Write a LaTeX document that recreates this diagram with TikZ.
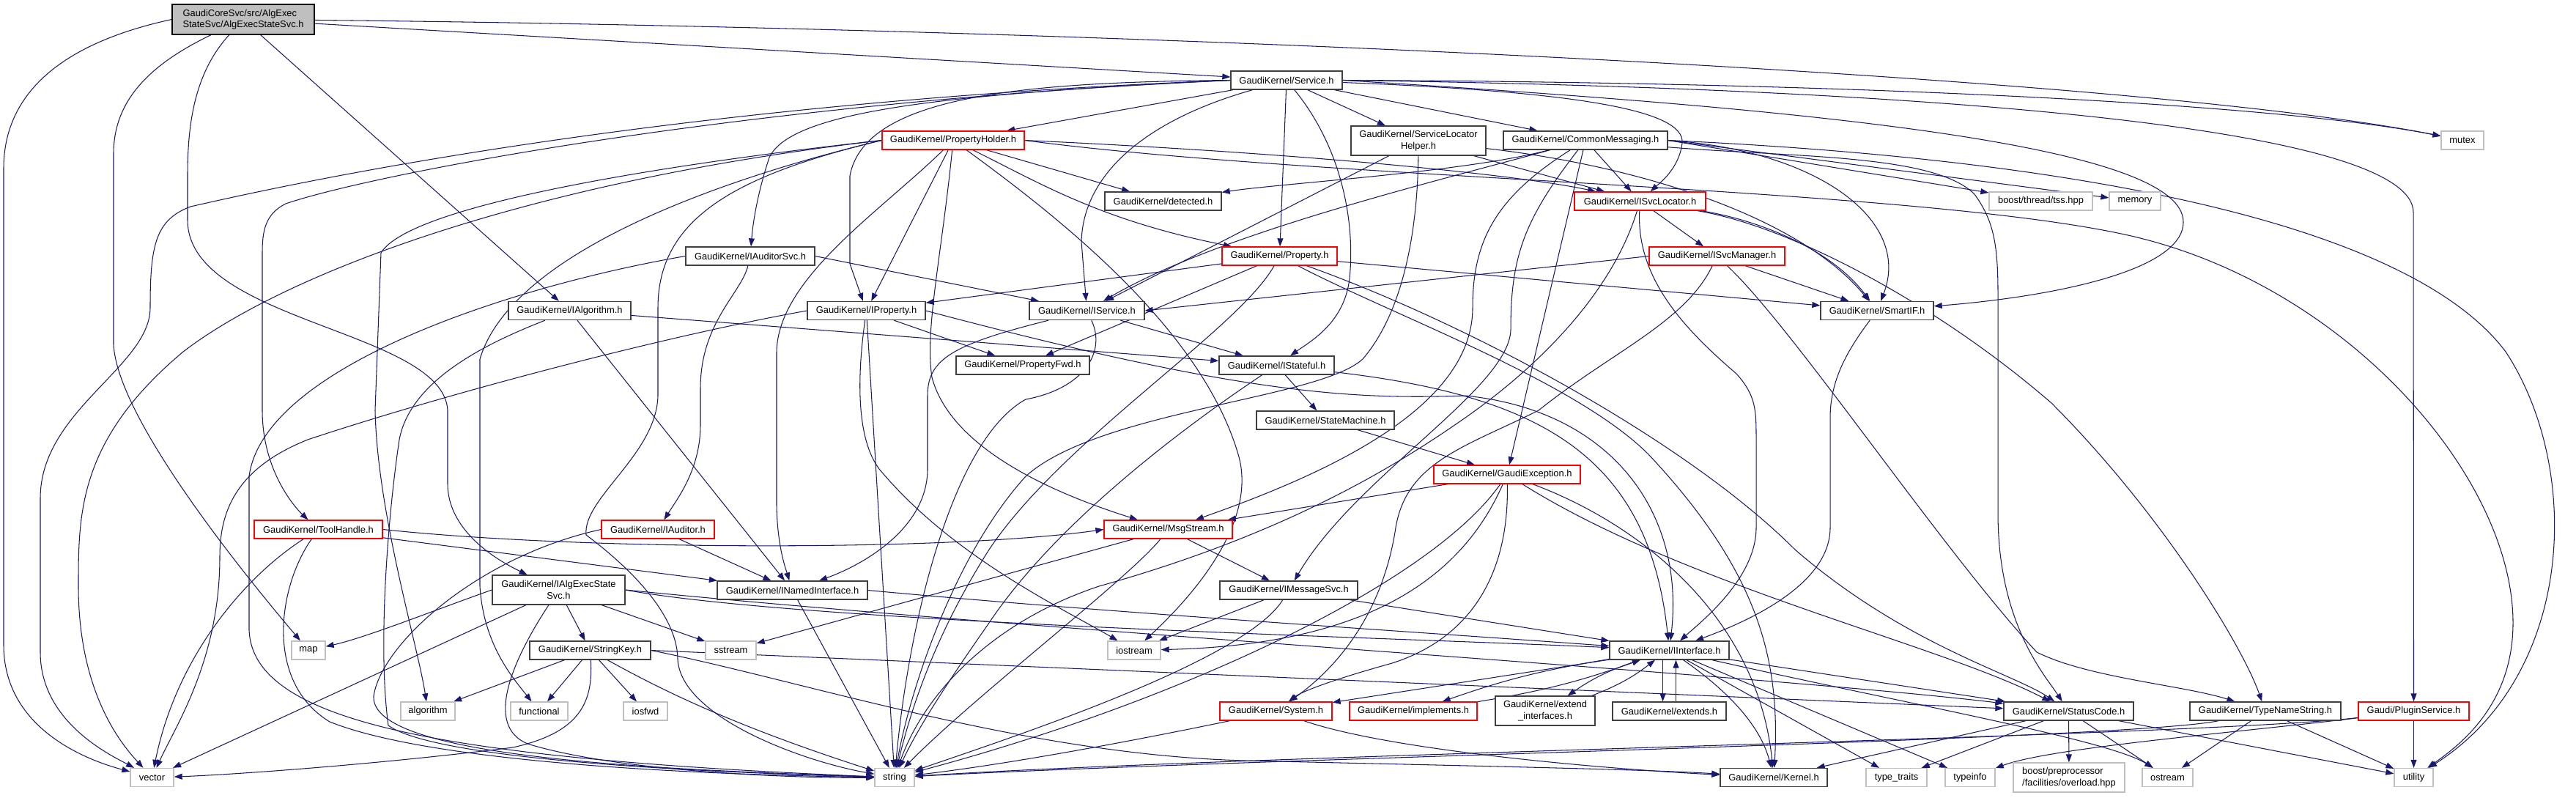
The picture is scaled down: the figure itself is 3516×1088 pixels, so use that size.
\documentclass[tikz,border=0pt]{standalone}
\usepackage{fontspec}
\setmainfont{Liberation Sans}
\usetikzlibrary{arrows.meta}
\pgfdeclarelayer{bg}
\pgfsetlayers{bg,main}
\definecolor{edgec}{HTML}{191970}
\definecolor{nodeb}{HTML}{404040}
\definecolor{grayb}{HTML}{BFBFBF}
\definecolor{redb}{HTML}{FF0000}
\definecolor{rootf}{HTML}{BFBFBF}
\tikzset{
  nb/.style={draw=nodeb, line width=1.35pt, fill=white, rectangle, minimum height=25pt, inner xsep=2pt, inner ysep=0pt, font=\fontsize{12.9}{15.5}\selectfont, text=black},
  nred/.style={nb, draw=redb},
  ngray/.style={nb, draw=grayb},
  nroot/.style={nb, draw=black, fill=rootf},
  edg/.style={draw=edgec, line width=1.05pt, -{Triangle[length=11pt,width=8pt]}},
}
\begin{document}
\begin{tikzpicture}[x=1pt,y=-1pt]
\useasboundingbox (0,0) rectangle (3516,1088);
% ---------------- nodes ----------------
\node[nroot,minimum width=194pt,minimum height=41pt,align=left] (root) at (332,26.5) {GaudiCoreSvc/src/AlgExec\\StateSvc/AlgExecStateSvc.h};
\node[nb,minimum width=152pt] (service) at (1756,109.5) {GaudiKernel/Service.h};
\node[nb,minimum width=184pt,minimum height=40pt,align=center] (slh) at (1936,192) {GaudiKernel/ServiceLocator\\Helper.h};
\node[nb,minimum width=224pt] (cm) at (2164,191.5) {GaudiKernel/CommonMessaging.h};
\node[nred,minimum width=194pt] (ph) at (1301,191.5) {GaudiKernel/PropertyHolder.h};
\node[nb,minimum width=159pt] (det) at (1587.5,274.5) {GaudiKernel/detected.h};
\node[nred,minimum width=179pt] (isl) at (2238.5,274.5) {GaudiKernel/ISvcLocator.h};
\node[ngray,minimum width=141pt] (tss) at (2785.5,274.5) {boost/thread/tss.hpp};
\node[ngray,minimum width=70pt] (memory) at (2914,274.5) {memory};
\node[ngray,minimum width=58pt] (mutex) at (3361,191.5) {mutex};
\node[nb,minimum width=176pt] (ias) at (1024,349.5) {GaudiKernel/IAuditorSvc.h};
\node[nb,minimum width=167pt] (ialg) at (777.5,424) {GaudiKernel/IAlgorithm.h};
\node[nred,minimum width=157pt] (prop) at (1746.5,349.5) {GaudiKernel/Property.h};
\node[nred,minimum width=185pt] (ism) at (2343.5,349.5) {GaudiKernel/ISvcManager.h};
\node[nb,minimum width=161pt] (iprop) at (1182.5,424) {GaudiKernel/IProperty.h};
\node[nb,minimum width=157pt] (isvc) at (1483.5,424) {GaudiKernel/IService.h};
\node[nb,minimum width=154pt] (smartif) at (2562,424) {GaudiKernel/SmartIF.h};
\node[nb,minimum width=182pt] (pfwd) at (1396,498.5) {GaudiKernel/PropertyFwd.h};
\node[nb,minimum width=157pt] (istate) at (1742.5,498.5) {GaudiKernel/IStateful.h};
\node[nb,minimum width=188pt] (sm) at (1809,573.5) {GaudiKernel/StateMachine.h};
\node[nred,minimum width=200pt] (gex) at (2057,647.5) {GaudiKernel/GaudiException.h};
\node[nred,minimum width=175pt] (th) at (434.5,722.5) {GaudiKernel/ToolHandle.h};
\node[nred,minimum width=154pt] (iaud) at (898,722.5) {GaudiKernel/IAuditor.h};
\node[nred,minimum width=175pt] (ms) at (1594.5,722.5) {GaudiKernel/MsgStream.h};
\node[nb,minimum width=181pt,minimum height=40pt,align=center] (iaess) at (762.5,805) {GaudiKernel/IAlgExecState\\Svc.h};
\node[nb,minimum width=205pt] (ini) at (1081.5,805.5) {GaudiKernel/INamedInterface.h};
\node[nb,minimum width=188pt] (imsg) at (1759,805.5) {GaudiKernel/IMessageSvc.h};
\node[ngray,minimum width=46pt] (map) at (421,887.5) {map};
\node[nb,minimum width=165pt] (sk) at (805.5,887.5) {GaudiKernel/StringKey.h};
\node[ngray,minimum width=69pt] (sstream) at (997.5,887.5) {sstream};
\node[ngray,minimum width=72pt] (iostream) at (1548,887.5) {iostream};
\node[nb,minimum width=163pt] (ii) at (2278.5,887.5) {GaudiKernel/IInterface.h};
\node[ngray,minimum width=74pt] (algorithm) at (584,970.5) {algorithm};
\node[ngray,minimum width=78pt] (functional) at (736,970.5) {functional};
\node[ngray,minimum width=60pt] (iosfwd) at (881,970.5) {iosfwd};
\node[nred,minimum width=153pt] (sys) at (1741.5,970.5) {GaudiKernel/System.h};
\node[nred,minimum width=174pt] (impl) at (1929,970.5) {GaudiKernel/implements.h};
\node[nb,minimum width=136pt,minimum height=40pt,align=center] (extif) at (2109,970) {GaudiKernel/extend\\\_interfaces.h};
\node[nb,minimum width=155pt] (extends) at (2278.5,970.5) {GaudiKernel/extends.h};
\node[nb,minimum width=177pt] (sc) at (2823.5,970.5) {GaudiKernel/StatusCode.h};
\node[nb,minimum width=206pt] (tns) at (3092,970.5) {GaudiKernel/TypeNameString.h};
\node[nred,minimum width=151pt] (ps) at (3294.5,970.5) {Gaudi/PluginService.h};
\node[ngray,minimum width=59pt] (vector) at (207.5,1061) {vector};
\node[ngray,minimum width=54pt] (string) at (1221,1061) {string};
\node[nb,minimum width=146pt] (kernel) at (2421,1061) {GaudiKernel/Kernel.h};
\node[ngray,minimum width=83pt] (typetraits) at (2588.5,1061) {type\_traits};
\node[ngray,minimum width=68pt] (typeinfo) at (2689,1061) {typeinfo};
\node[ngray,minimum width=152pt,minimum height=40pt,align=left] (ov) at (2824,1061) {boost/preprocessor\\/facilities/overload.hpp};
\node[ngray,minimum width=69pt] (ostream) at (2958.5,1061) {ostream};
\node[ngray,minimum width=53pt] (utility) at (3294.5,1061) {utility};
% ---------------- edges ----------------
\begin{pgfonlayer}{bg}
% root
\draw[edg] (root) -- (service);
\draw[edg] (root) .. controls (1500,38) and (2900,100) .. (mutex);
\draw[edg] (root) -- (ialg);
\draw[edg] (root.west) .. controls (80,60) and (5,130) .. (5,230) -- (5,880) .. controls (5,990) and (110,1035) .. (vector);
\draw[edg] (root) .. controls (200,90) and (155,140) .. (155,210) -- (155,470) .. controls (160,570) and (330,780) .. (map);
\draw[edg] (root) .. controls (265,100) and (256,170) .. (256,240) -- (256,300) .. controls (256,440) and (605,450) .. (611,560) -- (611,660) .. controls (611,730) and (690,770) .. (iaess);
% Service.h
\draw[edg] (service) -- (slh);
\draw[edg] (service) -- (cm);
\draw[edg] (service) -- (ph);
\draw[edg] (service) -- (prop);
\draw[edg] (service.west) .. controls (1400,112) and (1180,130) .. (1160,240) -- (1160,360) -- (iprop);
\draw[edg] (service) .. controls (1560,165) and (1478,240) .. (1476,330) -- (isvc);
\draw[edg] (service) .. controls (2150,125) and (2300,150) .. (2296,195) .. controls (2292,230) and (2265,250) .. (isl);
\draw[edg] (service.west) .. controls (1300,128) and (1080,150) .. (1050,215) .. controls (1035,260) and (1028,300) .. (ias);
\draw[edg] (service) .. controls (1830,200) and (1850,300) .. (1842,380) .. controls (1835,440) and (1790,465) .. (istate);
\draw[edg] (service.east) .. controls (2500,150) and (2980,200) .. (2980,303) .. controls (2980,370) and (2800,405) .. (smartif);
\draw[edg] (service.west) .. controls (1000,140) and (500,240) .. (390,278) .. controls (362,292) and (358,315) .. (358,345) -- (358,560) .. controls (358,640) and (400,690) .. (th);
\draw[edg] (service.east) .. controls (2600,120) and (3294,170) .. (3294,290) -- (ps);
\draw[edg] (service.east) .. controls (2500,112) and (3100,140) .. (mutex);
\draw[edg] (service.west) .. controls (900,140) and (400,250) .. (260,282) .. controls (212,300) and (205,335) .. (205,420) .. controls (205,500) and (55,560) .. (55,680) -- (55,890) .. controls (55,985) and (150,1030) .. (vector);
% ServiceLocatorHelper
\draw[edg] (slh) -- (isvc);
\draw[edg] (slh) -- (isl);
\draw[edg] (slh) .. controls (2250,228) and (2460,300) .. (smartif);
\draw[edg] (slh) .. controls (1935,300) and (1920,420) .. (1860,490) .. controls (1800,545) and (1500,560) .. (1400,650) .. controls (1300,760) and (1240,950) .. (string);
% CommonMessaging
\draw[edg] (cm) .. controls (2000,235) and (1750,250) .. (det);
\draw[edg] (cm) .. controls (1950,250) and (1660,320) .. (isvc);
\draw[edg] (cm) -- (isl);
\draw[edg] (cm) .. controls (2040,270) and (2010,330) .. (2010,420) .. controls (2010,560) and (1800,650) .. (ms);
\draw[edg] (cm) .. controls (2080,300) and (2062,350) .. (2062,450) .. controls (2060,530) and (1850,650) .. (imsg);
\draw[edg] (cm) -- (gex);
\draw[edg] (cm.east) .. controls (2480,205) and (2610,300) .. (smartif);
\draw[edg] (cm.east) -- (tss);
\draw[edg] (cm.east) -- (memory);
\draw[edg] (cm.east) .. controls (2900,220) and (3300,320) .. (3420,480) .. controls (3525,640) and (3515,920) .. (utility);
\draw[edg] (cm) .. controls (2450,215) and (2640,210) .. (2695,265) .. controls (2720,300) and (2727,330) .. (2727,400) -- (2727,700) .. controls (2727,850) and (2790,920) .. (sc);
% PropertyHolder
\draw[edg] (ph) .. controls (1420,250) and (1500,300) .. (prop);
\draw[edg] (ph) -- (iprop);
\draw[edg] (ph) -- (det);
\draw[edg] (ph.east) .. controls (1800,210) and (2080,240) .. (isl);
\draw[edg] (ph) .. controls (1285,350) and (1262,450) .. (1272,515) .. controls (1300,620) and (1460,680) .. (ms);
\draw[edg] (ph) .. controls (1200,290) and (1062,380) .. (1060,480) -- (1060,690) .. controls (1061,745) and (1072,775) .. (ini);
\draw[edg] (ph) .. controls (1450,300) and (1640,450) .. (1690,620) .. controls (1720,720) and (1610,830) .. (iostream);
\draw[edg] (ph.west) .. controls (900,225) and (560,280) .. (520,345) -- (512,560) .. controls (515,700) and (570,880) .. (algorithm);
\draw[edg] (ph.west) .. controls (1000,240) and (700,340) .. (655,490) -- (655,800) .. controls (660,880) and (700,925) .. (functional);
\draw[edg] (ph.west) .. controls (1000,240) and (898,300) .. (898,420) -- (898,540) .. controls (896,620) and (795,680) .. (800,730) .. controls (880,790) and (925,850) .. (925,900) .. controls (930,980) and (1100,1040) .. (string);
\draw[edg] (ph.west) .. controls (700,250) and (380,380) .. (250,480) .. controls (107,600) and (107,700) .. (107,800) .. controls (107,950) and (170,1020) .. (vector);
\draw[edg] (ph.east) .. controls (1800,245) and (2600,255) .. (2900,320) .. controls (3200,385) and (3430,650) .. (3430,850) .. controls (3430,960) and (3360,1015) .. (utility);
% ISvcLocator
\draw[edg] (isl) -- (ism);
\draw[edg] (isl) .. controls (2233,380) and (2300,450) .. (2370,510) .. controls (2397,540) and (2397,560) .. (2397,600) -- (2397,720) .. controls (2397,790) and (2320,850) .. (ii);
\draw[edg] (isl) .. controls (2400,300) and (2500,340) .. (smartif);
\draw[edg] (isl) .. controls (2450,310) and (2650,420) .. (2800,550) .. controls (2950,700) and (3060,880) .. (tns);
\draw[edg] (isl) .. controls (2200,400) and (2100,500) .. (2000,570) .. controls (1900,640) and (1750,730) .. (1500,800) .. controls (1350,850) and (1260,950) .. (string);
% ISvcManager
\draw[edg] (ism.west) -- (isvc.east);
\draw[edg] (ism) -- (smartif);
\draw[edg] (ism) .. controls (2450,450) and (2650,750) .. (2780,890) .. controls (2850,925) and (2980,935) .. (tns);
\draw[edg] (ism) .. controls (2300,440) and (2200,480) .. (2100,560) .. controls (2000,610) and (1920,630) .. (1905,720) .. controls (1890,820) and (1840,900) .. (sys);
% IAuditorSvc
\draw[edg] (ias) .. controls (1012,400) and (956,440) .. (956,530) -- (956,580) .. controls (956,640) and (925,680) .. (iaud);
\draw[edg] (ias.east) -- (isvc);
\draw[edg] (ias.west) .. controls (700,390) and (360,500) .. (340,650) -- (340,860) .. controls (345,985) and (600,1035) .. (string);
% IAlgorithm
\draw[edg] (ialg) -- (ini);
\draw[edg] (ialg) -- (istate);
\draw[edg] (ialg) .. controls (660,470) and (560,520) .. (545,600) .. controls (530,700) and (515,880) .. (530,990) .. controls (600,1040) and (1000,1055) .. (string);
% Property
\draw[edg] (prop) -- (iprop);
\draw[edg] (prop) -- (pfwd);
\draw[edg] (prop) -- (smartif);
\draw[edg] (prop) .. controls (1690,450) and (1450,600) .. (1350,750) .. controls (1280,860) and (1245,960) .. (string);
\draw[edg] (prop) .. controls (1900,430) and (2150,520) .. (2250,620) .. controls (2400,780) and (2430,900) .. (kernel);
\draw[edg] (prop) .. controls (2000,440) and (2300,600) .. (2450,750) .. controls (2600,880) and (2750,920) .. (sc);
% IProperty
\draw[edg] (iprop) -- (pfwd);
\draw[edg] (iprop.east) .. controls (1700,540) and (1850,545) .. (2000,540) .. controls (2200,560) and (2300,700) .. (ii);
\draw[edg] (iprop) .. controls (1169,520) and (1170,600) .. (1200,640) .. controls (1300,760) and (1450,830) .. (iostream);
\draw[edg] (iprop) -- (string);
\draw[edg] (iprop.west) .. controls (900,460) and (600,540) .. (420,600) .. controls (320,640) and (300,700) .. (300,760) .. controls (300,900) and (240,990) .. (vector);
% IService
\draw[edg] (isvc) .. controls (1300,470) and (1266,490) .. (1266,540) -- (1266,640) .. controls (1266,720) and (1180,770) .. (ini);
\draw[edg] (isvc) -- (istate);
\draw[edg] (isvc) .. controls (1510,480) and (1480,530) .. (1400,545) .. controls (1300,600) and (1240,850) .. (string);
% IStateful
\draw[edg] (istate) -- (sm);
\draw[edg] (istate) .. controls (2100,540) and (2250,620) .. (ii);
\draw[edg] (istate) .. controls (1650,560) and (1450,700) .. (1350,850) .. controls (1280,950) and (1250,1000) .. (string);
% StateMachine
\draw[edg] (sm) -- (gex);
% GaudiException
\draw[edg] (gex) -- (ms);
\draw[edg] (gex) .. controls (2060,780) and (2010,870) .. (1900,905) .. controls (1810,930) and (1775,945) .. (sys);
\draw[edg] (gex) .. controls (1950,800) and (1600,960) .. (string);
\draw[edg] (gex) .. controls (1990,800) and (1850,880) .. (iostream);
\draw[edg] (gex) .. controls (2300,800) and (2650,880) .. (sc);
\draw[edg] (gex) .. controls (2250,720) and (2400,850) .. (kernel);
% ToolHandle
\draw[edg] (th) -- (ini);
\draw[edg] (th.east) .. controls (800,752) and (1300,752) .. (ms.west);
\draw[edg] (th) .. controls (380,800) and (360,930) .. (450,985) .. controls (600,1045) and (1000,1058) .. (string);
\draw[edg] (th) .. controls (330,790) and (240,900) .. (vector);
% IAuditor
\draw[edg] (iaud) -- (ini);
\draw[edg] (iaud.west) .. controls (650,760) and (520,880) .. (510,950) .. controls (505,1035) and (900,1050) .. (string);
% MsgStream
\draw[edg] (ms) -- (imsg);
\draw[edg] (ms) -- (sstream);
\draw[edg] (ms) .. controls (1540,790) and (1330,950) .. (string);
% IAlgExecStateSvc
\draw[edg] (iaess) -- (sk);
\draw[edg] (iaess) -- (sstream);
\draw[edg] (iaess.west) .. controls (600,830) and (500,870) .. (map);
\draw[edg] (iaess) -- (vector);
\draw[edg] (iaess) .. controls (700,900) and (660,990) .. (720,1015) .. controls (850,1055) and (1100,1062) .. (string);
\draw[edg] (iaess.east) .. controls (1100,850) and (1900,870) .. (ii);
\draw[edg] (iaess.east) .. controls (1400,860) and (2400,920) .. (sc);
% INamedInterface
\draw[edg] (ini.east) .. controls (1500,835) and (1900,860) .. (ii);
\draw[edg] (ini) -- (string);
% IMessageSvc
\draw[edg] (imsg) -- (ii);
\draw[edg] (imsg) -- (iostream);
\draw[edg] (imsg) .. controls (1700,900) and (1400,1000) .. (string);
% StringKey
\draw[edg] (sk) -- (algorithm);
\draw[edg] (sk) -- (functional);
\draw[edg] (sk) -- (iosfwd);
\draw[edg] (sk) .. controls (900,940) and (1000,990) .. (string);
\draw[edg] (sk) .. controls (810,960) and (790,1000) .. (700,1020) .. controls (500,1045) and (300,1058) .. (vector);
\draw[edg] (sk.east) .. controls (1100,930) and (1400,1030) .. (1700,1038) .. controls (2000,1045) and (2250,1050) .. (kernel);
\draw[edg] (sk.east) -- (sc);
% IInterface
\draw[edg] (ii) -- (sys);
\draw[edg] (ii) to[bend right=5] (impl);
\draw[edg] (impl) to[bend right=5] (ii);
\draw[edg] (ii) to[bend right=8] (extif);
\draw[edg] (extif) to[bend right=8] (ii);
\draw[edg] ([xshift=-9pt]ii.south) -- ([xshift=-9pt]extends.north);
\draw[edg] ([xshift=9pt]extends.north) -- ([xshift=9pt]ii.south);
\draw[edg] (ii) .. controls (2340,930) and (2400,980) .. (kernel);
\draw[edg] (ii) -- (sc);
\draw[edg] (ii) -- (typetraits);
\draw[edg] (ii) -- (typeinfo);
\draw[edg] (ii) .. controls (2600,960) and (2880,1010) .. (ostream);
% System
\draw[edg] (sys) .. controls (1600,1000) and (1400,1040) .. (string);
\draw[edg] (sys) .. controls (1900,1025) and (2200,1050) .. (kernel);
% StatusCode
\draw[edg] (sc) -- (ov);
\draw[edg] (sc) -- (kernel);
\draw[edg] (sc) -- (typetraits);
\draw[edg] (sc) -- (ostream);
\draw[edg] (sc) -- (utility);
% TypeNameString
\draw[edg] (tns) .. controls (2900,1010) and (1700,1035) .. (string);
\draw[edg] (tns) -- (ostream);
\draw[edg] (tns) -- (utility);
% PluginService
\draw[edg] (ps) -- (utility);
\draw[edg] (ps) .. controls (3000,1005) and (1700,1030) .. (string);
\draw[edg] (ps) .. controls (3050,1000) and (2800,1020) .. (typeinfo);
% SmartIF
\draw[edg] (smartif) .. controls (2520,480) and (2498,520) .. (2498,570) -- (2498,720) .. controls (2498,800) and (2380,850) .. (ii);
\end{pgfonlayer}
\end{tikzpicture}
\end{document}
